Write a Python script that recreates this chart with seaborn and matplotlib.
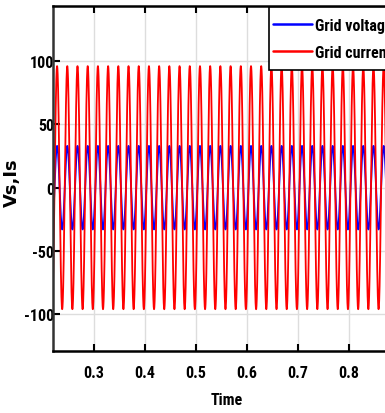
import numpy as np
import pandas as pd
import matplotlib
matplotlib.use("Agg")
import matplotlib.pyplot as plt
import seaborn as sns
from matplotlib import font_manager as fm
from matplotlib.patches import Rectangle

# ---- data ----
series_names = ["Grid voltage", "Grid current"]
series_colors = ["#0000ff", "#ff0000"]
amplitudes = [33.0, 96.0]          # peak values of Vs and Is
frequency_hz = 50.0                # grid frequency
phase_rad = [0.0, 0.0]             # in phase (unity power factor)
time_start, time_end = 0.22, 0.90
x_ticks = [0.3, 0.4, 0.5, 0.6, 0.7, 0.8]
y_ticks = [-100, -50, 0, 50, 100]

t = np.linspace(time_start, time_end, 6000)
frames = []
for name, amp, ph in zip(series_names, amplitudes, phase_rad):
    frames.append(pd.DataFrame({
        "Time": t,
        "value": amp * np.sin(2 * np.pi * frequency_hz * (t - 0.003) + ph),
        "series": name,
    }))
df = pd.concat(frames, ignore_index=True)

sns.set_theme(style="white")
names = {f.name for f in fm.fontManager.ttflist}
fam = "Liberation Sans"
for cand in ["Liberation Sans Narrow", "DejaVu Sans Condensed", "Roboto Condensed",
             "Open Sans Condensed", "Noto Sans Condensed"]:
    if cand in names:
        fam = cand
        break
plt.rcParams["font.family"] = [fam, "DejaVu Sans"]
plt.rcParams["font.weight"] = "bold"
for k in ["text.color", "axes.labelcolor", "xtick.color", "ytick.color",
          "xtick.labelcolor", "ytick.labelcolor"]:
    plt.rcParams[k] = "black"

W, H = 385, 414
fig = plt.figure(figsize=(W / 100, H / 100), dpi=100)
ax = fig.add_axes([53 / W, 1 - 352 / H, 347 / W, 345 / H])

sns.lineplot(data=df, x="Time", y="value", hue="series", palette=series_colors,
             hue_order=series_names, ax=ax, linewidth=1.3, estimator=None,
             sort=False, legend=True)

ax.set_xlim(time_start, time_end)
ax.set_ylim(-129, 143.5)
ax.set_xticks(x_ticks)
ax.set_yticks(y_ticks)
ax.set_xticklabels([f"{v:.1f}" for v in x_ticks], fontsize=11.5, fontweight="bold")
ax.set_yticklabels([str(v) for v in y_ticks], fontsize=11.5, fontweight="bold")
ax.grid(True, color="#dddddd", linewidth=1.0)
ax.tick_params(direction="in", length=5, width=1.5, colors="black",
               top=True, right=True, bottom=True, left=True)
ax.tick_params(axis="y", pad=-1)
ax.tick_params(axis="x", pad=10)
for s in ax.spines.values():
    s.set_color("black")
    s.set_linewidth(1.8)
ax.spines["left"].set_color("#333333")

ax.set_xlabel("Time", fontsize=11.5, fontweight="bold", labelpad=9, color="black")
ax.set_ylabel("Vs,Is", fontsize=13, fontweight="bold", family="DejaVu Sans", color="black")
ax.yaxis.set_label_coords((21 - 53) / 347, 0.49)

# legend frame (more vertical than horizontal padding, as in the reference)
frame = Rectangle((269 / W, 1 - 71 / H), 140 / W, 63 / H, transform=fig.transFigure,
                  facecolor="white", edgecolor="black", linewidth=1.2,
                  clip_on=False, zorder=4)
ax.add_patch(frame)

leg = ax.legend(loc="upper left", bbox_to_anchor=(273 / W, 1 - 19 / H),
                bbox_transform=fig.transFigure, frameon=False,
                borderaxespad=0.0, borderpad=0.0, handlelength=2.45,
                handletextpad=0.15, labelspacing=0.72,
                prop={"weight": "bold", "size": 11.5})
leg.set_zorder(6)
for line in leg.get_lines():
    line.set_linewidth(1.8)

fig.savefig("out.png", dpi=100)
